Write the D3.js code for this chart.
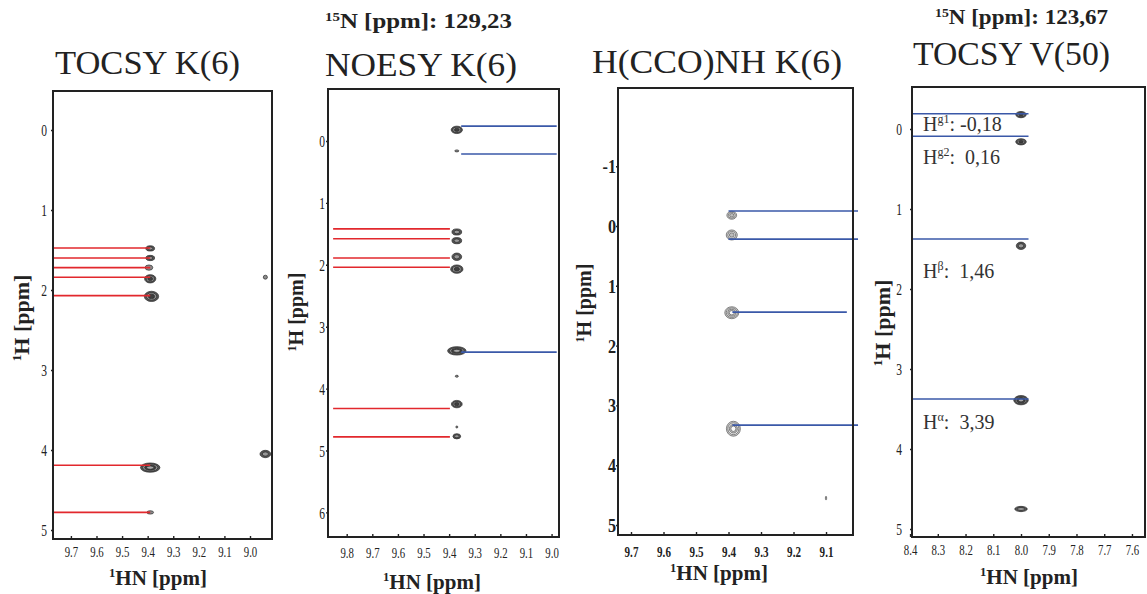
<!DOCTYPE html>
<html>
<head>
<meta charset="utf-8">
<script src="https://cdn.jsdelivr.net/npm/d3@7"></script>
<style>
  html, body { margin: 0; padding: 0; background: #fff; }
  svg { display: block; }
  svg text { font-family: "Liberation Serif", "Times New Roman", Times, serif; }
</style>
</head>
<body>
<svg id="fig" width="1147" height="594"></svg>
<script>
// ---- strip titles and 15N planes ----
const stripTitles = ["TOCSY K(6)", "NOESY K(6)", "H(CCO)NH K(6)", "TOCSY V(50)"];
const nitrogenPlanes = ["129,23", "123,67"];

// ---- axis extents (ppm): HN left -> right, 1H top -> bottom ----
const hnExtents = [[9.77, 8.914], [9.873, 8.971], [9.74, 9.017], [8.393, 7.553]];
const hExtents  = [[-0.4875, 5.1125], [-0.84, 6.397], [-2.308, 5.167], [-0.525, 5.1]];
const hnTicks = [
  [9.7, 9.6, 9.5, 9.4, 9.3, 9.2, 9.1, 9.0],
  [9.8, 9.7, 9.6, 9.5, 9.4, 9.3, 9.2, 9.1, 9.0],
  [9.7, 9.6, 9.5, 9.4, 9.3, 9.2, 9.1],
  [8.4, 8.3, 8.2, 8.1, 8.0, 7.9, 7.8, 7.7, 7.6]
];
const hTicks = [
  [0, 1, 2, 3, 4, 5],
  [0, 1, 2, 3, 4, 5, 6],
  [-1, 0, 1, 2, 3, 4, 5],
  [0, 1, 2, 3, 4, 5]
];

// ---- cross peaks: HN shift, 1H shift, half line widths (ppm), contour levels ----
const tocsyK6HN  = [9.39, 9.39, 9.395, 9.39, 9.385, 9.39, 9.39, 8.94, 8.94];
const tocsyK6H   = [1.48, 1.60, 1.72, 1.86, 2.08, 4.22, 4.78, 4.05, 1.84];
const tocsyK6WHN = [0.017, 0.017, 0.015, 0.022, 0.028, 0.038, 0.013, 0.021, 0.008];
const tocsyK6WH  = [0.033, 0.033, 0.033, 0.052, 0.064, 0.058, 0.021, 0.046, 0.025];
const tocsyK6Lvl = [2, 2, 1, 3, 3, 4, 1, 2, 1];

const noesyK6HN  = [9.37, 9.37, 9.37, 9.37, 9.37, 9.37, 9.37, 9.37, 9.37, 9.37, 9.37];
const noesyK6H   = [-0.18, 0.16, 1.47, 1.61, 1.87, 2.07, 3.39, 3.80, 4.25, 4.62, 4.77];
const noesyK6WHN = [0.022, 0.008, 0.019, 0.019, 0.019, 0.024, 0.036, 0.006, 0.021, 0.004, 0.015];
const noesyK6WH  = [0.060, 0.016, 0.050, 0.050, 0.060, 0.068, 0.068, 0.016, 0.060, 0.016, 0.042];
const noesyK6Lvl = [3, 1, 2, 2, 2, 3, 4, 1, 3, 1, 2];

const hccoK6HN  = [9.39, 9.39, 9.39, 9.385, 9.10];
const hccoK6H   = [-0.18, 0.15, 1.45, 3.39, 4.55];
const hccoK6WHN = [0.015, 0.017, 0.0215, 0.0215, 0.002];
const hccoK6WH  = [0.067, 0.084, 0.100, 0.125, 0.033];
const hccoK6Lvl = [3, 3, 4, 4, 1];

// TOCSY V(50): assigned shifts (labelled) plus one unlabelled peak
const tocsyV50Atoms  = ["g1", "g2", "β", "α"];
const tocsyV50Shifts = [-0.18, 0.16, 1.46, 3.39];
const tocsyV50HN  = [8.0, 8.0, 8.0, 8.0, 8.0];
const tocsyV50H   = tocsyV50Shifts.concat([4.75]);
const tocsyV50WHN = [0.019, 0.019, 0.017, 0.026, 0.0225];
const tocsyV50WH  = [0.039, 0.039, 0.046, 0.058, 0.033];
const tocsyV50Lvl = [3, 3, 2, 4, 2];

// ---- assignment lines (1H ppm, HN start, HN end) ----
const tocsyK6RedH    = [1.475, 1.60, 1.72, 1.84, 2.07, 4.19, 4.78];
const tocsyK6RedSpan = [9.77, 9.39];
const noesyK6RedH    = [1.42, 1.58, 1.89, 2.04, 4.32, 4.78];
const noesyK6RedSpan = [9.853, 9.397];
const noesyK6BlueH   = [-0.24, 0.21, 3.41];
const noesyK6BlueSpan = [9.353, 8.98];
const hccoK6BlueH     = [-0.25, 0.22, 1.44, 3.33];
const hccoK6BlueFrom  = [9.40, 9.40, 9.388, 9.388];
const hccoK6BlueTo    = [9.0015, 9.0015, 9.036, 9.0015];
const tocsyV50BlueH   = [-0.19, 0.09, 1.375, 3.375];
const tocsyV50BlueSpan = [8.393, 7.973];

const RED = "#e2282d", BLUE = "#3a58a8", INK = "#222";

const svg = d3.select("#fig");

const panels = [
  { frame: {l: 53, r: 272, t: 91, b: 539}, k: 0,
    title: {x: 55, y: 74, w: 185},
    xLab: {off: 18, font: 15, weight: "normal", sx: 0.72},
    yLab: {gap: 6, font: 16, weight: "normal", sx: 0.72},
    hAxis: {x: 29, y: 318, font: 22}, hnAxis: {x: 158, y: 585, font: 21},
    peaks: [tocsyK6HN, tocsyK6H, tocsyK6WHN, tocsyK6WH, tocsyK6Lvl], style: "solid",
    lines: tocsyK6RedH.map(h => ({h, a: tocsyK6RedSpan[0], b: tocsyK6RedSpan[1], c: RED})) },
  { frame: {l: 328, r: 559, t: 89, b: 537}, k: 1,
    title: {x: 325, y: 76, w: 192},
    xLab: {off: 21, font: 15, weight: "normal", sx: 0.72},
    yLab: {gap: 3, font: 16, weight: "normal", sx: 0.72},
    hAxis: {x: 303, y: 312, font: 20}, hnAxis: {x: 432, y: 589, font: 21},
    peaks: [noesyK6HN, noesyK6H, noesyK6WHN, noesyK6WH, noesyK6Lvl], style: "solid",
    lines: noesyK6RedH.map(h => ({h, a: noesyK6RedSpan[0], b: noesyK6RedSpan[1], c: RED}))
      .concat(noesyK6BlueH.map(h => ({h, a: noesyK6BlueSpan[0], b: noesyK6BlueSpan[1], c: BLUE}))) },
  { frame: {l: 618, r: 853, t: 88, b: 535}, k: 2,
    title: {x: 592, y: 73, w: 250},
    xLab: {off: 22, font: 15, weight: "bold", sx: 0.74},
    yLab: {gap: 2, font: 18, weight: "bold", sx: 0.9},
    hAxis: {x: 591, y: 303, font: 20}, hnAxis: {x: 719, y: 580, font: 21},
    peaks: [hccoK6HN, hccoK6H, hccoK6WHN, hccoK6WH, hccoK6Lvl], style: "ring",
    lines: hccoK6BlueH.map((h, i) => ({h, a: hccoK6BlueFrom[i], b: hccoK6BlueTo[i], c: BLUE})) },
  { frame: {l: 912, r: 1145, t: 87, b: 537}, k: 3,
    title: {x: 913, y: 65, w: 197},
    xLab: {off: 18, font: 15, weight: "normal", sx: 0.72},
    yLab: {gap: 10, font: 16, weight: "normal", sx: 0.72},
    hAxis: {x: 890, y: 323, font: 22}, hnAxis: {x: 1029, y: 584, font: 21},
    peaks: [tocsyV50HN, tocsyV50H, tocsyV50WHN, tocsyV50WH, tocsyV50Lvl], style: "solid",
    lines: tocsyV50BlueH.map(h => ({h, a: tocsyV50BlueSpan[0], b: tocsyV50BlueSpan[1], c: BLUE})) }
];

const peakStyles = {
  solid: { fills: ["#555", "#979797", "#3e3e3e", "#a8a8a8"], single: "#8c8c8c", stroke: "#2a2a2a", sw: 0.7 },
  ring:  { fills: ["#c9c9c9", "#f4f4f4", "#bdbdbd", "#fafafa"], single: "#999", stroke: "#6a6a6a", sw: 0.8 }
};

// text with a leading superscript, e.g. 1H, 15N
function supText(sel, sup, rest, size) {
  sel.append("tspan").attr("font-size", size * 0.6).attr("dy", -size * 0.36).text(sup);
  sel.append("tspan").attr("font-size", size).attr("dy", size * 0.36).text(rest);
}

panels.forEach(p => {
  const f = p.frame;
  const x = d3.scaleLinear().domain(hnExtents[p.k]).range([f.l, f.r]);
  const y = d3.scaleLinear().domain(hExtents[p.k]).range([f.t, f.b]);
  const g = svg.append("g");

  // title
  g.append("text")
    .attr("x", p.title.x).attr("y", p.title.y)
    .attr("font-size", 34).attr("fill", INK)
    .attr("textLength", p.title.w).attr("lengthAdjust", "spacingAndGlyphs")
    .text(stripTitles[p.k]);

  // HN axis (bottom)
  const ax = g.append("g").attr("transform", `translate(0,${f.b})`)
    .call(d3.axisBottom(x).tickValues(hnTicks[p.k]).tickFormat(d3.format(".1f")).tickSizeInner(-3).tickSizeOuter(0));
  ax.select(".domain").remove();
  ax.selectAll(".tick line").attr("stroke", INK).attr("stroke-width", 1.4);
  ax.selectAll(".tick text")
    .attr("y", p.xLab.off).attr("dy", 0)
    .attr("font-size", p.xLab.font).attr("font-weight", p.xLab.weight).attr("fill", INK)
    .attr("transform", `scale(${p.xLab.sx},1)`);

  // 1H axis (left)
  const ay = g.append("g").attr("transform", `translate(${f.l},0)`)
    .call(d3.axisLeft(y).tickValues(hTicks[p.k]).tickFormat(d => String(d)).tickSizeInner(2).tickSizeOuter(0));
  ay.select(".domain").remove();
  ay.selectAll(".tick line").attr("stroke", INK).attr("stroke-width", 1.4);
  ay.selectAll(".tick text")
    .attr("x", -p.yLab.gap / p.yLab.sx).attr("dy", "0.36em")
    .attr("font-size", p.yLab.font).attr("font-weight", p.yLab.weight).attr("fill", INK)
    .attr("transform", `scale(${p.yLab.sx},1)`);

  // axis titles
  g.append("text")
    .attr("transform", `translate(${p.hAxis.x},${p.hAxis.y}) rotate(-90)`)
    .attr("text-anchor", "middle").attr("font-weight", "bold").attr("fill", INK)
    .call(supText, "1", "H [ppm]", p.hAxis.font);
  g.append("text")
    .attr("x", p.hnAxis.x).attr("y", p.hnAxis.y)
    .attr("text-anchor", "middle").attr("font-weight", "bold").attr("fill", INK)
    .call(supText, "1", "HN [ppm]", p.hnAxis.font);

  // cross peaks as nested contour ellipses
  const [phn, ph, pwhn, pwh, plvl] = p.peaks;
  const st = peakStyles[p.style];
  const peaks = phn.map((hn, i) => ({
    cx: x(hn), cy: y(ph[i]),
    rx: Math.abs(x(hn + pwhn[i]) - x(hn)),
    ry: Math.abs(y(ph[i] + pwh[i]) - y(ph[i])),
    lvl: plvl[i]
  }));
  g.append("g").selectAll("g").data(peaks).join("g")
    .selectAll("ellipse")
    .data(d => d3.range(d.lvl).map(k => ({...d, k})))
    .join("ellipse")
      .attr("cx", d => d.cx).attr("cy", d => d.cy)
      .attr("rx", d => d.rx * (1 - d.k / d.lvl * 0.85))
      .attr("ry", d => d.ry * (1 - d.k / d.lvl * 0.85))
      .attr("fill", d => d.lvl === 1 ? st.single : st.fills[d.k])
      .attr("stroke", st.stroke).attr("stroke-width", st.sw);

  // assignment lines
  g.append("g").selectAll("line").data(p.lines).join("line")
    .attr("x1", d => x(d.a)).attr("x2", d => x(d.b))
    .attr("y1", d => y(d.h)).attr("y2", d => y(d.h))
    .attr("stroke", d => d.c).attr("stroke-width", 1.6);

  // frame
  g.append("rect")
    .attr("x", f.l).attr("y", f.t).attr("width", f.r - f.l).attr("height", f.b - f.t)
    .attr("fill", "none").attr("stroke", INK).attr("stroke-width", 2);

  // shift labels for V(50)
  if (p.k === 3) {
    const labelDy = [16.5, 22, 32, 29];
    tocsyV50Atoms.forEach((atom, i) => {
      const t = g.append("text")
        .attr("x", x(8.353)).attr("y", y(tocsyV50Shifts[i]) + labelDy[i])
        .attr("fill", "#333").attr("font-size", 20).style("white-space", "pre");
      t.append("tspan").text("H");
      t.append("tspan").attr("font-size", 12).attr("dy", -8).text(atom);
      t.append("tspan").attr("font-size", 20).attr("dy", 8)
        .text(":" + (i === 0 ? " " : "  ") + tocsyV50Shifts[i].toFixed(2).replace(".", ","));
    });
  }
});

// 15N plane headers
const headers = [{x: 325, y: 28, w: 187}, {x: 935, y: 24, w: 173}];
headers.forEach((h, i) => {
  svg.append("text")
    .attr("x", h.x).attr("y", h.y)
    .attr("font-weight", "bold").attr("fill", INK)
    .attr("textLength", h.w).attr("lengthAdjust", "spacingAndGlyphs")
    .call(supText, "15", "N [ppm]: " + nitrogenPlanes[i], 20);
});
</script>
</body>
</html>
